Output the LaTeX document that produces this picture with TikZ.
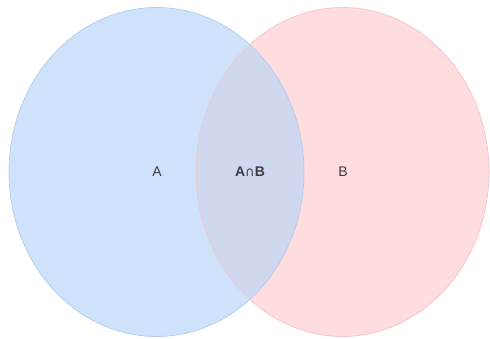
\documentclass[tikz,border=0pt]{standalone}
\usepackage{fontspec}
\setmainfont{Liberation Sans}
\newfontfamily\symfont{DejaVu Sans}
\definecolor{setA}{RGB}{206,227,251}
\definecolor{setAline}{RGB}{180,204,236}
\definecolor{setB}{RGB}{255,221,222}
\definecolor{setBline}{RGB}{242,198,200}
\definecolor{setAB}{RGB}{208,216,240}
\definecolor{txt}{RGB}{60,60,70}
\begin{document}
\begin{tikzpicture}[x=1pt,y=-1pt,
  lbl/.style={font=\fontsize{14}{16}\selectfont, text=txt, inner sep=0pt}]
\useasboundingbox (0,0) rectangle (490,339);
\fill[white] (0,0) rectangle (490,339);
\coordinate (ca) at (156.5,172);
\coordinate (cb) at (342.5,172);
\fill[setA] (ca) ellipse [x radius=147.5, y radius=164.5];
\fill[setB] (cb) ellipse [x radius=146.5, y radius=164.5];
\begin{scope}
  \clip (ca) ellipse [x radius=147.5, y radius=164.5];
  \fill[setAB] (cb) ellipse [x radius=146.5, y radius=164.5];
\end{scope}
\draw[setAline, line width=0.7pt] (ca) ellipse [x radius=147.5, y radius=164.5];
\draw[setBline, line width=0.7pt] (cb) ellipse [x radius=146.5, y radius=164.5];
\node[lbl] (la) at (157,172) {A};
\node[lbl] (lab) at (250,172) {\textbf{A}{\symfont\fontsize{13}{15}\selectfont ∩}\textbf{B}};
\node[lbl] (lb) at (343,172) {B};
\end{tikzpicture}
\end{document}
